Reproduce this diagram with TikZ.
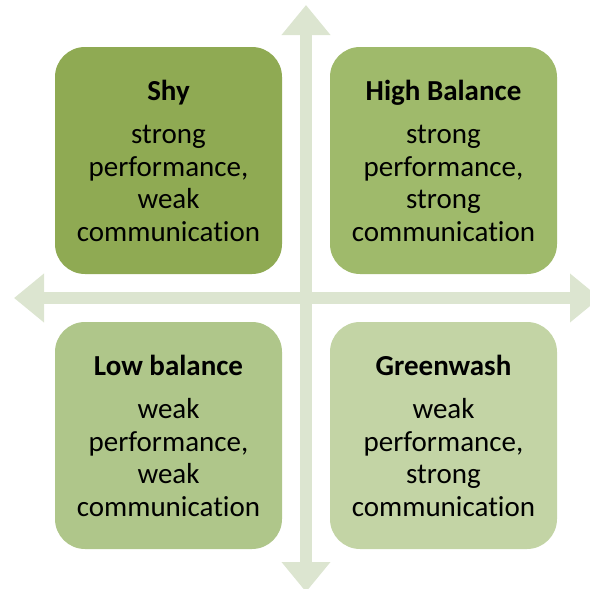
\documentclass[tikz,border=0pt]{standalone}
\usepackage{fontspec}
\setmainfont{Carlito}[Ligatures=NoCommon]
\usetikzlibrary{arrows.meta}
\definecolor{cShy}{HTML}{8FAA53}
\definecolor{cHigh}{HTML}{9FBA6B}
\definecolor{cLow}{HTML}{AFC68A}
\definecolor{cGreen}{HTML}{C3D4A5}
\definecolor{cAxis}{HTML}{DCE5D0}
\tikzset{
  quad/.style={rounded corners=30pt, minimum width=227pt, minimum height=227pt,
    inner sep=0pt, align=center, text=black,
    font=\fontsize{29}{32.5}\selectfont},
  axis/.style={draw=cAxis, line width=12pt,
    {Triangle[length=30pt,width=47pt]}-{Triangle[length=30pt,width=47pt]}},
}
\newcommand{\qtitle}[1]{{\bfseries #1}\\[11pt]}
\begin{document}
\begin{tikzpicture}[x=1pt,y=-1pt]
\useasboundingbox (0,0) rectangle (590,589);
\coordinate (top) at (306,5);
\coordinate (bot) at (306,592);
\coordinate (left) at (14,298);
\coordinate (right) at (600,298);
\draw[axis] (left) -- (right);
\draw[axis] (top) -- (bot);
\node[quad, fill=cShy] (shy) at (168.5,160.5)
  {\qtitle{Shy}strong\\performance,\\weak\\communication};
\node[quad, fill=cHigh] (high) at (443.5,160.5)
  {\qtitle{High Balance}strong\\performance,\\strong\\communication};
\node[quad, fill=cLow] (low) at (168.5,435.5)
  {\qtitle{Low balance}weak\\performance,\\weak\\communication};
\node[quad, fill=cGreen] (green) at (443.5,435.5)
  {\qtitle{Greenwash}weak\\performance,\\strong\\communication};
\end{tikzpicture}
\end{document}
